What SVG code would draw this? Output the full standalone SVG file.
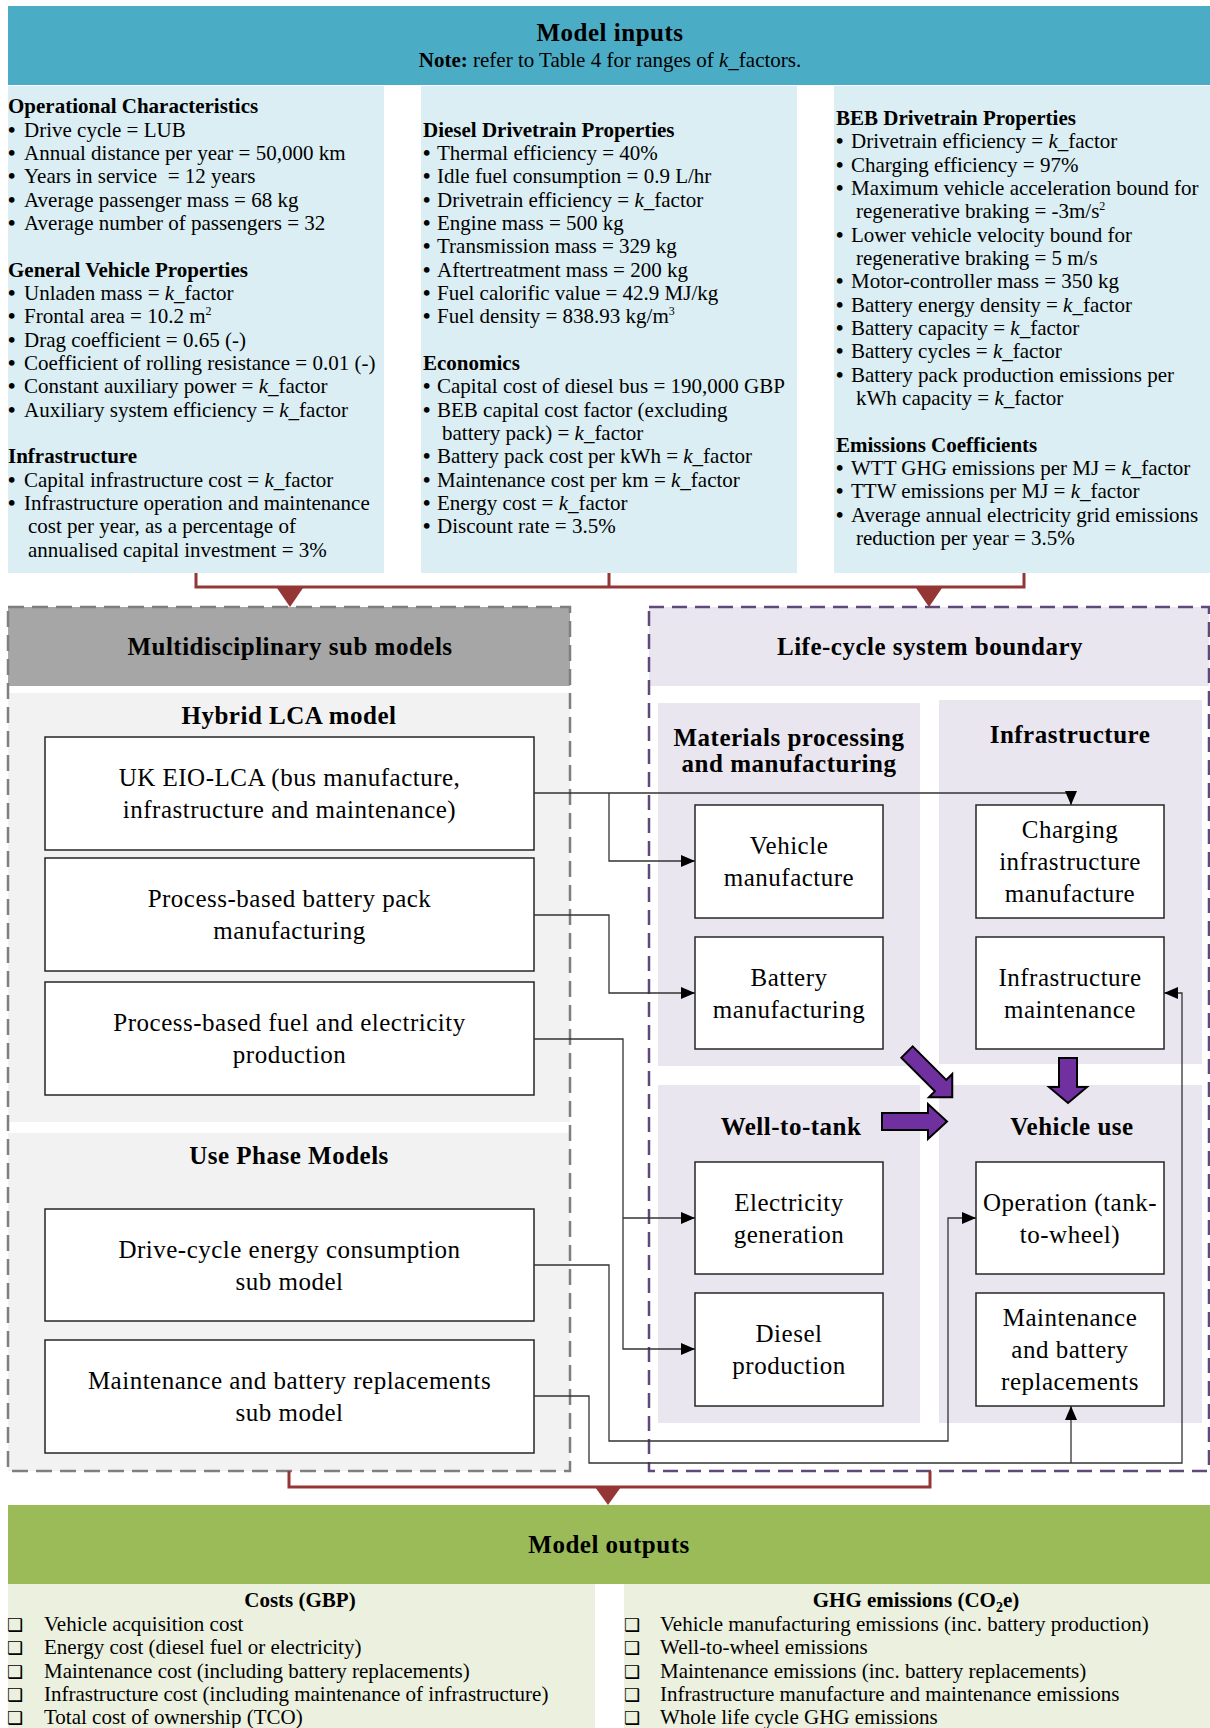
<svg xmlns="http://www.w3.org/2000/svg" width="1210" height="1728" viewBox="0 0 1210 1728">
<style>
text{font-family:"Liberation Serif","Times New Roman",serif;fill:#000}
.in{font-size:21px}
.hb{font-weight:bold}
.b{font-weight:bold}
.ttl{font-size:25px;font-weight:bold;text-anchor:middle;letter-spacing:0.5px}
.sub{font-size:25px;font-weight:bold;text-anchor:middle;letter-spacing:0.5px}
.bx{font-size:25px;text-anchor:middle;letter-spacing:0.5px}
.box{fill:#fff;stroke:#262626;stroke-width:1.5}
.out{font-size:21px}
.chk{font-family:"DejaVu Sans",sans-serif;font-size:18px;font-weight:bold}
.conn{fill:none;stroke:#333;stroke-width:1.3}
.red{fill:none;stroke:#943634;stroke-width:3}
.pa{fill:#7030a0;stroke:#000;stroke-width:2;stroke-linejoin:miter}
</style>
<defs>
<marker id="ah" markerUnits="userSpaceOnUse" viewBox="0 0 14 12" refX="14" refY="6" markerWidth="14" markerHeight="12" orient="auto">
<path d="M0,0 L14,6 L0,12 z" fill="#000"/>
</marker>
</defs>

<!-- Model inputs -->
<g id="model-inputs">
<rect x="8" y="6" width="1202" height="79" fill="#4bacc6"/>
<text class="ttl" x="610" y="41">Model inputs</text>
<text x="610" y="67" style="font-size:21px;text-anchor:middle"><tspan font-weight="bold">Note:</tspan> refer to Table 4 for ranges of <tspan font-style="italic">k</tspan>_factors.</text>
</g>

<g id="inputs-panel-1">
<rect x="8" y="86" width="376" height="487" fill="#daeef3"/>
<text class="in hb" x="8" y="113">Operational Characteristics</text>
<text class="in" y="137"><tspan class="b" x="8">•</tspan><tspan x="24">Drive cycle = LUB</tspan></text>
<text class="in" y="160"><tspan class="b" x="8">•</tspan><tspan x="24">Annual distance per year = 50,000 km</tspan></text>
<text class="in" y="183"><tspan class="b" x="8">•</tspan><tspan x="24">Years in service&#160; = 12 years</tspan></text>
<text class="in" y="207"><tspan class="b" x="8">•</tspan><tspan x="24">Average passenger mass = 68 kg</tspan></text>
<text class="in" y="230"><tspan class="b" x="8">•</tspan><tspan x="24">Average number of passengers = 32</tspan></text>
<text class="in hb" x="8" y="277">General Vehicle Properties</text>
<text class="in" y="300"><tspan class="b" x="8">•</tspan><tspan x="24">Unladen mass = <tspan font-style="italic">k</tspan>_factor</tspan></text>
<text class="in" y="323"><tspan class="b" x="8">•</tspan><tspan x="24">Frontal area = 10.2 m</tspan><tspan dy="-8" font-size="12">2</tspan></text>
<text class="in" y="347"><tspan class="b" x="8">•</tspan><tspan x="24">Drag coefficient = 0.65 (-)</tspan></text>
<text class="in" y="370"><tspan class="b" x="8">•</tspan><tspan x="24">Coefficient of rolling resistance = 0.01 (-)</tspan></text>
<text class="in" y="393"><tspan class="b" x="8">•</tspan><tspan x="24">Constant auxiliary power = <tspan font-style="italic">k</tspan>_factor</tspan></text>
<text class="in" y="417"><tspan class="b" x="8">•</tspan><tspan x="24">Auxiliary system efficiency = <tspan font-style="italic">k</tspan>_factor</tspan></text>
<text class="in hb" x="8" y="463">Infrastructure</text>
<text class="in" y="487"><tspan class="b" x="8">•</tspan><tspan x="24">Capital infrastructure cost = <tspan font-style="italic">k</tspan>_factor</tspan></text>
<text class="in" y="510"><tspan class="b" x="8">•</tspan><tspan x="24">Infrastructure operation and maintenance</tspan></text>
<text class="in" x="28" y="533">cost per year, as a percentage of</text>
<text class="in" x="28" y="557">annualised capital investment = 3%</text>
</g>

<g id="inputs-panel-2">
<rect x="421" y="86" width="376" height="487" fill="#daeef3"/>
<text class="in hb" x="423" y="137">Diesel Drivetrain Properties</text>
<text class="in" y="160"><tspan class="b" x="423">•</tspan><tspan x="437">Thermal efficiency = 40%</tspan></text>
<text class="in" y="183"><tspan class="b" x="423">•</tspan><tspan x="437">Idle fuel consumption = 0.9 L/hr</tspan></text>
<text class="in" y="207"><tspan class="b" x="423">•</tspan><tspan x="437">Drivetrain efficiency = <tspan font-style="italic">k</tspan>_factor</tspan></text>
<text class="in" y="230"><tspan class="b" x="423">•</tspan><tspan x="437">Engine mass = 500 kg</tspan></text>
<text class="in" y="253"><tspan class="b" x="423">•</tspan><tspan x="437">Transmission mass = 329 kg</tspan></text>
<text class="in" y="277"><tspan class="b" x="423">•</tspan><tspan x="437">Aftertreatment mass = 200 kg</tspan></text>
<text class="in" y="300"><tspan class="b" x="423">•</tspan><tspan x="437">Fuel calorific value = 42.9 MJ/kg</tspan></text>
<text class="in" y="323"><tspan class="b" x="423">•</tspan><tspan x="437">Fuel density = 838.93 kg/m</tspan><tspan dy="-8" font-size="12">3</tspan></text>
<text class="in hb" x="423" y="370">Economics</text>
<text class="in" y="393"><tspan class="b" x="423">•</tspan><tspan x="437">Capital cost of diesel bus = 190,000 GBP</tspan></text>
<text class="in" y="417"><tspan class="b" x="423">•</tspan><tspan x="437">BEB capital cost factor (excluding</tspan></text>
<text class="in" x="442" y="440">battery pack) = <tspan font-style="italic">k</tspan>_factor</text>
<text class="in" y="463"><tspan class="b" x="423">•</tspan><tspan x="437">Battery pack cost per kWh = <tspan font-style="italic">k</tspan>_factor</tspan></text>
<text class="in" y="487"><tspan class="b" x="423">•</tspan><tspan x="437">Maintenance cost per km = <tspan font-style="italic">k</tspan>_factor</tspan></text>
<text class="in" y="510"><tspan class="b" x="423">•</tspan><tspan x="437">Energy cost = <tspan font-style="italic">k</tspan>_factor</tspan></text>
<text class="in" y="533"><tspan class="b" x="423">•</tspan><tspan x="437">Discount rate = 3.5%</tspan></text>
</g>

<g id="inputs-panel-3">
<rect x="834" y="86" width="376" height="487" fill="#daeef3"/>
<text class="in hb" x="836" y="125">BEB Drivetrain Properties</text>
<text class="in" y="148"><tspan class="b" x="836">•</tspan><tspan x="851">Drivetrain efficiency = <tspan font-style="italic">k</tspan>_factor</tspan></text>
<text class="in" y="172"><tspan class="b" x="836">•</tspan><tspan x="851">Charging efficiency = 97%</tspan></text>
<text class="in" y="195"><tspan class="b" x="836">•</tspan><tspan x="851">Maximum vehicle acceleration bound for</tspan></text>
<text class="in" y="218"><tspan x="856">regenerative braking = -3m/s</tspan><tspan dy="-8" font-size="12">2</tspan></text>
<text class="in" y="242"><tspan class="b" x="836">•</tspan><tspan x="851">Lower vehicle velocity bound for</tspan></text>
<text class="in" x="856" y="265">regenerative braking = 5 m/s</text>
<text class="in" y="288"><tspan class="b" x="836">•</tspan><tspan x="851">Motor-controller mass = 350 kg</tspan></text>
<text class="in" y="312"><tspan class="b" x="836">•</tspan><tspan x="851">Battery energy density = <tspan font-style="italic">k</tspan>_factor</tspan></text>
<text class="in" y="335"><tspan class="b" x="836">•</tspan><tspan x="851">Battery capacity = <tspan font-style="italic">k</tspan>_factor</tspan></text>
<text class="in" y="358"><tspan class="b" x="836">•</tspan><tspan x="851">Battery cycles = <tspan font-style="italic">k</tspan>_factor</tspan></text>
<text class="in" y="382"><tspan class="b" x="836">•</tspan><tspan x="851">Battery pack production emissions per</tspan></text>
<text class="in" x="856" y="405">kWh capacity = <tspan font-style="italic">k</tspan>_factor</text>
<text class="in hb" x="836" y="452">Emissions Coefficients</text>
<text class="in" y="475"><tspan class="b" x="836">•</tspan><tspan x="851">WTT GHG emissions per MJ = <tspan font-style="italic">k</tspan>_factor</tspan></text>
<text class="in" y="498"><tspan class="b" x="836">•</tspan><tspan x="851">TTW emissions per MJ = <tspan font-style="italic">k</tspan>_factor</tspan></text>
<text class="in" y="522"><tspan class="b" x="836">•</tspan><tspan x="851">Average annual electricity grid emissions</tspan></text>
<text class="in" x="856" y="545">reduction per year = 3.5%</text>
</g>

<!-- Multidisciplinary sub models -->
<g id="multidisciplinary">
<rect x="8" y="607" width="562" height="79" fill="#a6a6a6"/>
<rect x="8" y="693" width="562" height="429" fill="#f2f2f2"/>
<rect x="8" y="1133" width="562" height="338" fill="#f2f2f2"/>
<rect x="8" y="607" width="562" height="864" fill="none" stroke="#7f7f7f" stroke-width="2.5" stroke-dasharray="16 8"/>
<text class="sub" x="290" y="655">Multidisciplinary sub models</text>
<text class="sub" x="289" y="724">Hybrid LCA model</text>
<text class="sub" x="289" y="1164">Use Phase Models</text>
</g>

<g id="uk-eio-lca">
<rect class="box" x="45" y="737" width="489" height="113"/>
<text class="bx" x="289.5" y="786">UK EIO-LCA (bus manufacture,</text>
<text class="bx" x="289.5" y="818">infrastructure and maintenance)</text>
</g>
<g id="battery-pack-model">
<rect class="box" x="45" y="858" width="489" height="113"/>
<text class="bx" x="289.5" y="907">Process-based battery pack</text>
<text class="bx" x="289.5" y="939">manufacturing</text>
</g>
<g id="fuel-electricity-model">
<rect class="box" x="45" y="982" width="489" height="113"/>
<text class="bx" x="289.5" y="1031">Process-based fuel and electricity</text>
<text class="bx" x="289.5" y="1063">production</text>
</g>
<g id="drive-cycle-model">
<rect class="box" x="45" y="1209" width="489" height="112"/>
<text class="bx" x="289.5" y="1258">Drive-cycle energy consumption</text>
<text class="bx" x="289.5" y="1290">sub model</text>
</g>
<g id="maintenance-model">
<rect class="box" x="45" y="1340" width="489" height="113"/>
<text class="bx" x="289.5" y="1389">Maintenance and battery replacements</text>
<text class="bx" x="289.5" y="1421">sub model</text>
</g>

<!-- Life-cycle system boundary -->
<g id="lifecycle-boundary">
<rect x="649" y="607" width="560" height="79" fill="#e9e6ef"/>
<rect x="658" y="703" width="262" height="363" fill="#e9e6ef"/>
<rect x="939" y="700" width="263" height="364" fill="#e9e6ef"/>
<rect x="658" y="1085" width="262" height="338" fill="#e9e6ef"/>
<rect x="939" y="1085" width="263" height="338" fill="#e9e6ef"/>
<rect x="649" y="607" width="560" height="864" fill="none" stroke="#5f497a" stroke-width="2.5" stroke-dasharray="15 8"/>
<text class="sub" x="930" y="655">Life-cycle system boundary</text>
<text class="sub" x="789" y="746">Materials processing</text>
<text class="sub" x="789" y="772">and manufacturing</text>
<text class="sub" x="1070" y="743">Infrastructure</text>
<text class="sub" x="791" y="1135">Well-to-tank</text>
<text class="sub" x="1072" y="1135">Vehicle use</text>
</g>

<g id="vehicle-manufacture">
<rect class="box" x="695" y="805" width="188" height="113"/>
<text class="bx" x="789" y="854">Vehicle</text>
<text class="bx" x="789" y="886">manufacture</text>
</g>
<g id="battery-manufacturing">
<rect class="box" x="695" y="937" width="188" height="112"/>
<text class="bx" x="789" y="986">Battery</text>
<text class="bx" x="789" y="1018">manufacturing</text>
</g>
<g id="charging-infrastructure">
<rect class="box" x="976" y="805" width="188" height="113"/>
<text class="bx" x="1070" y="838">Charging</text>
<text class="bx" x="1070" y="870">infrastructure</text>
<text class="bx" x="1070" y="902">manufacture</text>
</g>
<g id="infrastructure-maintenance">
<rect class="box" x="976" y="937" width="188" height="112"/>
<text class="bx" x="1070" y="986">Infrastructure</text>
<text class="bx" x="1070" y="1018">maintenance</text>
</g>
<g id="electricity-generation">
<rect class="box" x="695" y="1162" width="188" height="112"/>
<text class="bx" x="789" y="1211">Electricity</text>
<text class="bx" x="789" y="1243">generation</text>
</g>
<g id="diesel-production">
<rect class="box" x="695" y="1293" width="188" height="113"/>
<text class="bx" x="789" y="1342">Diesel</text>
<text class="bx" x="789" y="1374">production</text>
</g>
<g id="operation">
<rect class="box" x="976" y="1162" width="188" height="112"/>
<text class="bx" x="1070" y="1211">Operation (tank-</text>
<text class="bx" x="1070" y="1243">to-wheel)</text>
</g>
<g id="maintenance-replacements">
<rect class="box" x="976" y="1293" width="188" height="113"/>
<text class="bx" x="1070" y="1326">Maintenance</text>
<text class="bx" x="1070" y="1358">and battery</text>
<text class="bx" x="1070" y="1390">replacements</text>
</g>

<!-- Model outputs -->
<g id="model-outputs">
<rect x="8" y="1505" width="1202" height="79" fill="#9bbb59"/>
<text class="ttl" x="609" y="1553">Model outputs</text>
</g>
<g id="outputs-costs">
<rect x="8" y="1584" width="587" height="144" fill="#ebf1de"/>
<text x="300" y="1607" style="font-size:21px;font-weight:bold;text-anchor:middle">Costs (GBP)</text>
<text class="chk" x="7" y="1631">❑</text><text class="out" x="44" y="1631">Vehicle acquisition cost</text>
<text class="chk" x="7" y="1654">❑</text><text class="out" x="44" y="1654">Energy cost (diesel fuel or electricity)</text>
<text class="chk" x="7" y="1678">❑</text><text class="out" x="44" y="1678">Maintenance cost (including battery replacements)</text>
<text class="chk" x="7" y="1701">❑</text><text class="out" x="44" y="1701">Infrastructure cost (including maintenance of infrastructure)</text>
<text class="chk" x="7" y="1724">❑</text><text class="out" x="44" y="1724">Total cost of ownership (TCO)</text>
</g>
<g id="outputs-ghg">
<rect x="624" y="1584" width="586" height="144" fill="#ebf1de"/>
<text x="916" y="1607" style="font-size:21px;font-weight:bold;text-anchor:middle">GHG emissions (CO<tspan dy="5" font-size="14">2</tspan><tspan dy="-5">e)</tspan></text>
<text class="chk" x="624" y="1631">❑</text><text class="out" x="660" y="1631">Vehicle manufacturing emissions (inc. battery production)</text>
<text class="chk" x="624" y="1654">❑</text><text class="out" x="660" y="1654">Well-to-wheel emissions</text>
<text class="chk" x="624" y="1678">❑</text><text class="out" x="660" y="1678">Maintenance emissions (inc. battery replacements)</text>
<text class="chk" x="624" y="1701">❑</text><text class="out" x="660" y="1701">Infrastructure manufacture and maintenance emissions</text>
<text class="chk" x="624" y="1724">❑</text><text class="out" x="660" y="1724">Whole life cycle GHG emissions</text>
</g>

<!-- Connectors -->
<g id="connectors">
<path class="red" d="M196,573 V587 H1024 V573 M609,573 V587"/>
<path d="M277,588 L303,588 L290,607 z" fill="#943634"/>
<path d="M916,588 L942,588 L929,607 z" fill="#943634"/>
<path class="red" d="M289,1471 V1487 H930 V1471"/>
<path d="M595,1487 L621,1487 L608,1505 z" fill="#943634"/>

<path class="conn" d="M534,793 H1071 V805" marker-end="url(#ah)"/>
<path class="conn" d="M609,793 V861 H695" marker-end="url(#ah)"/>
<path class="conn" d="M534,915 H609 V993 H695" marker-end="url(#ah)"/>
<path class="conn" d="M534,1039 H623 V1349 H695" marker-end="url(#ah)"/>
<path class="conn" d="M623,1218 H695" marker-end="url(#ah)"/>
<path class="conn" d="M534,1265 H609 V1441 H948 V1218 H976" marker-end="url(#ah)"/>
<path class="conn" d="M534,1396 H589 V1463 H1182 V993 H1164" marker-end="url(#ah)"/>
<path class="conn" d="M1071,1463 V1406" marker-end="url(#ah)"/>

<path class="pa" transform="translate(907,1052) rotate(45)" d="M0,-8 H47.5 V-16.5 L64,0 L47.5,16.5 V8 H0 z"/>
<path class="pa" d="M882,1113 H928 V1104 L947,1121.5 L928,1139 V1130 H882 z"/>
<path class="pa" d="M1059,1058 H1077 V1087 H1087 L1068,1103 L1049,1087 H1059 z"/>
</g>
</svg>
